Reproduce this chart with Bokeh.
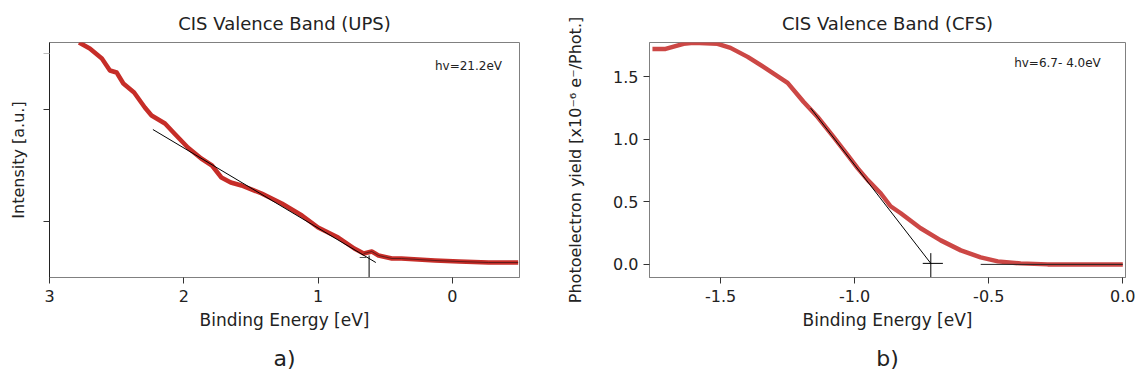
from bokeh.plotting import figure
from bokeh.models import Range1d, FixedTicker, Label, Title
from bokeh.layouts import row
from bokeh.embed import file_html
from bokeh.resources import INLINE

# ---- data: (a) UPS valence band ----
ups_energy = [2.78, 2.70, 2.61, 2.55, 2.50, 2.45, 2.37, 2.29, 2.24, 2.14, 2.07, 1.97,
              1.87, 1.79, 1.72, 1.65, 1.57, 1.42, 1.27, 1.12, 1.00, 0.85, 0.73, 0.66,
              0.60, 0.55, 0.45, 0.38, 0.13, -0.05, -0.27, -0.49]
ups_intensity = [2.35, 2.29, 2.19, 2.07, 2.05, 1.94, 1.85, 1.70, 1.62, 1.54, 1.44, 1.30,
                 1.19, 1.12, 1.00, 0.95, 0.92, 0.84, 0.74, 0.62, 0.50, 0.40, 0.29, 0.24,
                 0.26, 0.22, 0.19, 0.19, 0.17, 0.16, 0.15, 0.15]
ups_fit_energy = [2.23, 0.57]
ups_fit_intensity = [1.48, 0.15]
ups_onset = 0.62
ups_yticks = [0.56, 1.68]
ups_yminor = [2.24]
ups_xticks = [3, 2, 1, 0]

# ---- data: (b) CFS valence band ----
cfs_energy = [-1.754, -1.705, -1.638, -1.601, -1.511, -1.463, -1.399, -1.340, -1.250,
              -1.190, -1.138, -1.078, -1.026, -0.989, -0.951, -0.903, -0.866, -0.828,
              -0.754, -0.679, -0.604, -0.530, -0.466, -0.381, -0.280, 0.0]
cfs_yield = [1.724, 1.724, 1.764, 1.772, 1.764, 1.732, 1.660, 1.580, 1.452,
             1.299, 1.179, 1.018, 0.874, 0.770, 0.674, 0.569, 0.465, 0.409,
             0.289, 0.192, 0.112, 0.056, 0.024, 0.008, 0.0, 0.0]
cfs_fit_energy = [-1.164, -0.716]
cfs_fit_yield = [1.25, 0.008]
cfs_base_energy = [-0.53, 0.0]
cfs_base_yield = [0.0, 0.0]
cfs_onset = -0.716
cfs_xticks = [-1.5, -1.0, -0.5, 0.0]
cfs_yticks = [0.0, 0.5, 1.0, 1.5]

FONT = "DejaVu Sans"
TXT = "#222222"
GRAY = "#808080"


def style(p, title, tag):
    p.xgrid.visible = False
    p.ygrid.visible = False
    p.outline_line_color = GRAY
    p.outline_line_width = 1
    p.title.text = title
    p.title.align = "center"
    p.title.text_font = FONT
    p.title.text_font_size = "18px"
    p.title.text_font_style = "normal"
    p.title.text_color = TXT
    p.title.standoff = 17
    p.add_layout(Title(text=tag, align="center", text_font=FONT, text_font_size="22px",
                       text_font_style="normal", text_color=TXT, standoff=22), "below")
    for ax in (p.xaxis[0], p.yaxis[0]):
        ax.axis_label_text_font = FONT
        ax.axis_label_text_font_size = "16px"
        ax.axis_label_text_font_style = "normal"
        ax.axis_label_text_color = TXT
        ax.major_label_text_font = FONT
        ax.major_label_text_font_size = "16px"
        ax.major_label_text_color = TXT
        ax.major_tick_in = 0
        ax.major_tick_out = 6
        ax.minor_tick_in = 0
        ax.minor_tick_out = 0
        ax.major_tick_line_color = "#333333"
    p.xaxis[0].axis_line_color = GRAY
    p.xaxis[0].axis_label_text_font_size = "17px"
    p.xaxis[0].major_label_standoff = 6
    p.xaxis[0].axis_label_standoff = 5


# ---------------- panel a ----------------
p1 = figure(width=555, height=385, x_range=Range1d(3, -0.5), y_range=Range1d(0, 2.35),
            output_backend="svg", toolbar_location=None,
            min_border_left=49, min_border_right=36, min_border_top=42, min_border_bottom=108)
style(p1, "CIS Valence Band (UPS)", "a)")
p1.xaxis[0].ticker = FixedTicker(ticks=ups_xticks)
p1.xaxis[0].axis_label = "Binding Energy [eV]"
p1.yaxis[0].ticker = FixedTicker(ticks=ups_yticks, minor_ticks=ups_yminor)
p1.yaxis[0].major_label_overrides = {t: "" for t in ups_yticks}
p1.yaxis[0].minor_tick_out = 6
p1.yaxis[0].minor_tick_line_color = "#bbbbbb"
p1.yaxis[0].axis_line_color = "#222222"
p1.yaxis[0].axis_label = "Intensity [a.u.]"
p1.yaxis[0].axis_label_standoff = 16

p1.line(ups_energy, ups_intensity, line_color="#c62d28", line_width=4.5, line_join="round")
flat = [(e, i) for e, i in zip(ups_energy, ups_intensity) if e <= 0.66]
p1.line([f[0] for f in flat], [f[1] for f in flat], line_color="#3a1414", line_width=1, line_alpha=0.7)
p1.line(ups_fit_energy, ups_fit_intensity, line_color="black", line_width=1)
p1.segment(x0=[ups_onset], y0=[0.22], x1=[ups_onset], y1=[-0.03], line_color="black", line_width=1)
p1.segment(x0=[ups_onset + 0.07], y0=[0.20], x1=[ups_onset + 0.02], y1=[0.20], line_color="#555555", line_width=1)
p1.add_layout(Label(x=-0.37, y=2.12, text="hv=21.2eV", text_align="right",
                    text_baseline="middle", text_font=FONT, text_font_size="12px", text_color=TXT))

# ---------------- panel b ----------------
p2 = figure(width=581, height=385, x_range=Range1d(-1.765, 0.01), y_range=Range1d(-0.105, 1.775),
            output_backend="svg", toolbar_location=None,
            min_border_left=94, min_border_right=11, min_border_top=42, min_border_bottom=108)
style(p2, "CIS Valence Band (CFS)", "b)")
p2.xaxis[0].ticker = FixedTicker(ticks=cfs_xticks)
p2.xaxis[0].major_label_overrides = {-1.5: "-1.5", -1.0: "-1.0", -0.5: "-0.5", 0.0: "0.0"}
p2.xaxis[0].axis_label = "Binding Energy [eV]"
p2.yaxis[0].ticker = FixedTicker(ticks=cfs_yticks)
p2.yaxis[0].major_label_overrides = {0.0: "0.0", 0.5: "0.5", 1.0: "1.0", 1.5: "1.5"}
p2.yaxis[0].axis_line_color = GRAY
p2.yaxis[0].axis_label = "Photoelectron yield [x10⁻⁶ e⁻/Phot.]"
p2.yaxis[0].axis_label_standoff = 25

p2.line(cfs_energy, cfs_yield, line_color="#cc4745", line_width=4.5, line_join="round")
p2.line(cfs_fit_energy, cfs_fit_yield, line_color="black", line_width=1)
p2.line(cfs_base_energy, cfs_base_yield, line_color="#222222", line_width=1)
p2.segment(x0=[cfs_onset], y0=[0.09], x1=[cfs_onset], y1=[-0.15], line_color="black", line_width=1)
p2.segment(x0=[cfs_onset - 0.03], y0=[0.008], x1=[cfs_onset + 0.045], y1=[0.008], line_color="black", line_width=1)
p2.add_layout(Label(x=-0.082, y=1.612, text="hv=6.7- 4.0eV", text_align="right",
                    text_baseline="middle", text_font=FONT, text_font_size="12px", text_color=TXT))

layout = row(p1, p2)
open("out.html", "w").write(file_html(layout, INLINE))
